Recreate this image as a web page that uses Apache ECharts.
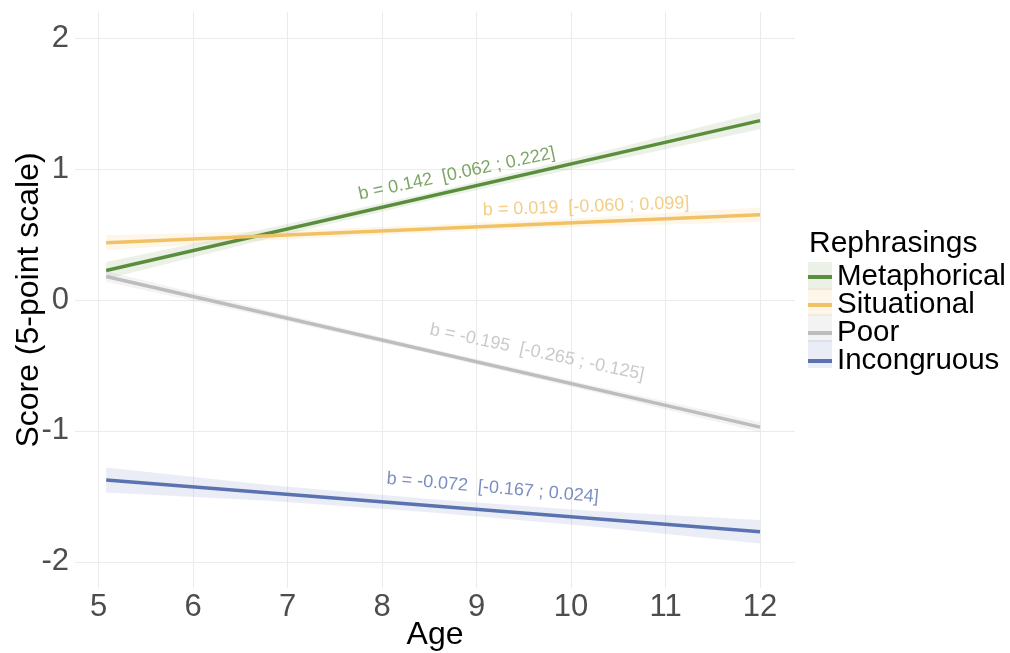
<!DOCTYPE html>
<html>
<head>
<meta charset="utf-8">
<script src="https://cdn.jsdelivr.net/npm/echarts@6/dist/echarts.min.js"></script>
<style>
  html, body { margin: 0; padding: 0; background: #fff; }
  #chart { width: 1010px; height: 653px; }
</style>
</head>
<body>
<div id="chart"></div>
<script>
// Rephrasing groups and their colours
const groups = ['Metaphorical', 'Situational', 'Poor', 'Incongruous'];
const lineColors = ['#5b8e3c', '#f0c265', '#bdbdbd', '#5b72b1'];
const bandColors = ['rgba(91,142,60,0.12)', 'rgba(240,194,101,0.14)', 'rgba(170,170,170,0.14)', 'rgba(91,114,177,0.13)'];

// Fitted lines: age at both ends and predicted score
const lineAges = [5.08, 12];
const metaphoricalFit = [0.225, 1.37];
const situationalFit = [0.438, 0.651];
const poorFit = [0.179, -0.971];
const incongruousFit = [-1.375, -1.771];

// Confidence bands sampled along age
const bandAges = [5.08, 6.8, 8.5, 10.2, 12];
const metaphoricalLow = [0.16, 0.47, 0.76, 1.03, 1.305];
const metaphoricalHigh = [0.29, 0.55, 0.82, 1.11, 1.435];
const situationalLow = [0.381, 0.456, 0.513, 0.561, 0.596];
const situationalHigh = [0.495, 0.526, 0.573, 0.631, 0.706];
const poorLow = [0.139, -0.131, -0.409, -0.697, -1.011];
const poorHigh = [0.219, -0.081, -0.369, -0.647, -0.931];
const incongruousLow = [-1.47, -1.533, -1.621, -1.729, -1.861];
const incongruousHigh = [-1.28, -1.413, -1.521, -1.609, -1.681];

// Slope annotations: text, anchor age, anchor score, angle
const slopeTexts = [
  'b = 0.142  [0.062 ; 0.222]',
  'b = 0.019  [-0.060 ; 0.099]',
  'b = -0.195  [-0.265 ; -0.125]',
  'b = -0.072  [-0.167 ; 0.024]'
];
const slopeAges = [8.79, 10.16, 9.64, 9.17];
const slopeScores = [0.964, 0.712, -0.40, -1.436];
const slopeAngles = [12, 2, -12, -5];

// Axis ticks
const ageTicks = [5, 6, 7, 8, 9, 10, 11, 12];
const scoreTicks = [-2, -1, 0, 1, 2];

const fits = [metaphoricalFit, situationalFit, poorFit, incongruousFit];
const lows = [metaphoricalLow, situationalLow, poorLow, incongruousLow];
const highs = [metaphoricalHigh, situationalHigh, poorHigh, incongruousHigh];

const FONT = '"Liberation Sans", Arial, sans-serif';

const bandSeries = groups.map((g, i) => ({
  type: 'custom',
  name: g + ' CI',
  coordinateSystem: 'cartesian2d',
  itemStyle: { color: bandColors[i] },
  silent: true,
  z: 1,
  data: [[bandAges[0], lows[i][0]]],
  renderItem: (params, api) => {
    const pts = [];
    bandAges.forEach((a, k) => pts.push(api.coord([a, highs[i][k]])));
    for (let k = bandAges.length - 1; k >= 0; k--) pts.push(api.coord([bandAges[k], lows[i][k]]));
    return { type: 'polygon', shape: { points: pts }, style: { fill: bandColors[i] } };
  }
}));

const fitSeries = groups.map((g, i) => ({
  type: 'line',
  name: g,
  symbol: 'none',
  silent: true,
  z: 3,
  itemStyle: { color: lineColors[i] },
  lineStyle: { color: lineColors[i], width: 3.5 },
  data: lineAges.map((a, k) => [a, fits[i][k]])
}));

const labelSeries = slopeTexts.map((t, i) => ({
  type: 'scatter',
  name: 'label' + i,
  symbolSize: 1,
  itemStyle: { color: 'rgba(0,0,0,0)' },
  silent: true,
  z: 4,
  data: [[slopeAges[i], slopeScores[i]]],
  label: {
    show: true,
    position: 'inside',
    formatter: t,
    rotate: slopeAngles[i],
    color: lineColors[i],
    fontFamily: FONT,
    fontSize: 18
  },
  labelLayout: { hideOverlap: false }
}));

const chart = echarts.init(document.getElementById('chart'), null, { renderer: 'canvas' });
chart.setOption({
  animation: false,
  backgroundColor: '#ffffff',
  title: {
    text: 'Rephrasings',
    left: 809,
    top: 229,
    padding: 0,
    textStyle: { fontFamily: FONT, fontSize: 30, fontWeight: 'normal', color: '#000' }
  },
  grid: { left: 75, right: 215, top: 12, bottom: 65, containLabel: false, outerBoundsMode: 'none' },
  legend: [
    {
      data: groups.map(g => g + ' CI'),
      orient: 'vertical',
      left: 808,
      top: 262,
      padding: 0,
      itemGap: -2,
      itemWidth: 24,
      itemHeight: 28,
      icon: 'rect',
      selectedMode: false,
      formatter: () => '',
      textStyle: { fontSize: 28, lineHeight: 28 }
    },
    {
      data: groups,
      orient: 'vertical',
      left: 808,
      top: 262,
      padding: 0,
      itemGap: -2,
      itemWidth: 24,
      itemHeight: 4,
      icon: 'rect',
      itemTextGap: 3,
      selectedMode: false,
      textStyle: { fontFamily: FONT, fontSize: 29.5, lineHeight: 28, color: '#000' }
    }
  ],
  xAxis: {
    type: 'value',
    min: 4.75,
    max: 12.37,
    name: 'Age',
    nameLocation: 'middle',
    nameGap: 31,
    nameMoveOverlap: false,
    nameTextStyle: { fontFamily: FONT, fontSize: 32, color: '#000' },
    axisLine: { show: false },
    axisTick: { show: false, customValues: ageTicks },
    axisLabel: { customValues: ageTicks, fontFamily: FONT, fontSize: 31, color: '#4d4d4d', margin: 4 },
    splitLine: { show: true, lineStyle: { color: '#ebebeb', width: 1 } }
  },
  yAxis: {
    type: 'value',
    min: -2.2,
    max: 2.2,
    name: 'Score (5-point scale)',
    nameLocation: 'middle',
    nameGap: 30,
    nameMoveOverlap: false,
    nameTextStyle: { fontFamily: FONT, fontSize: 32, color: '#000' },
    axisLine: { show: false },
    axisTick: { show: false, customValues: scoreTicks },
    axisLabel: { customValues: scoreTicks, fontFamily: FONT, fontSize: 31, color: '#4d4d4d', margin: 6 },
    splitLine: { show: true, lineStyle: { color: '#ebebeb', width: 1 } }
  },
  series: [...bandSeries, ...fitSeries, ...labelSeries]
});
</script>
</body>
</html>
